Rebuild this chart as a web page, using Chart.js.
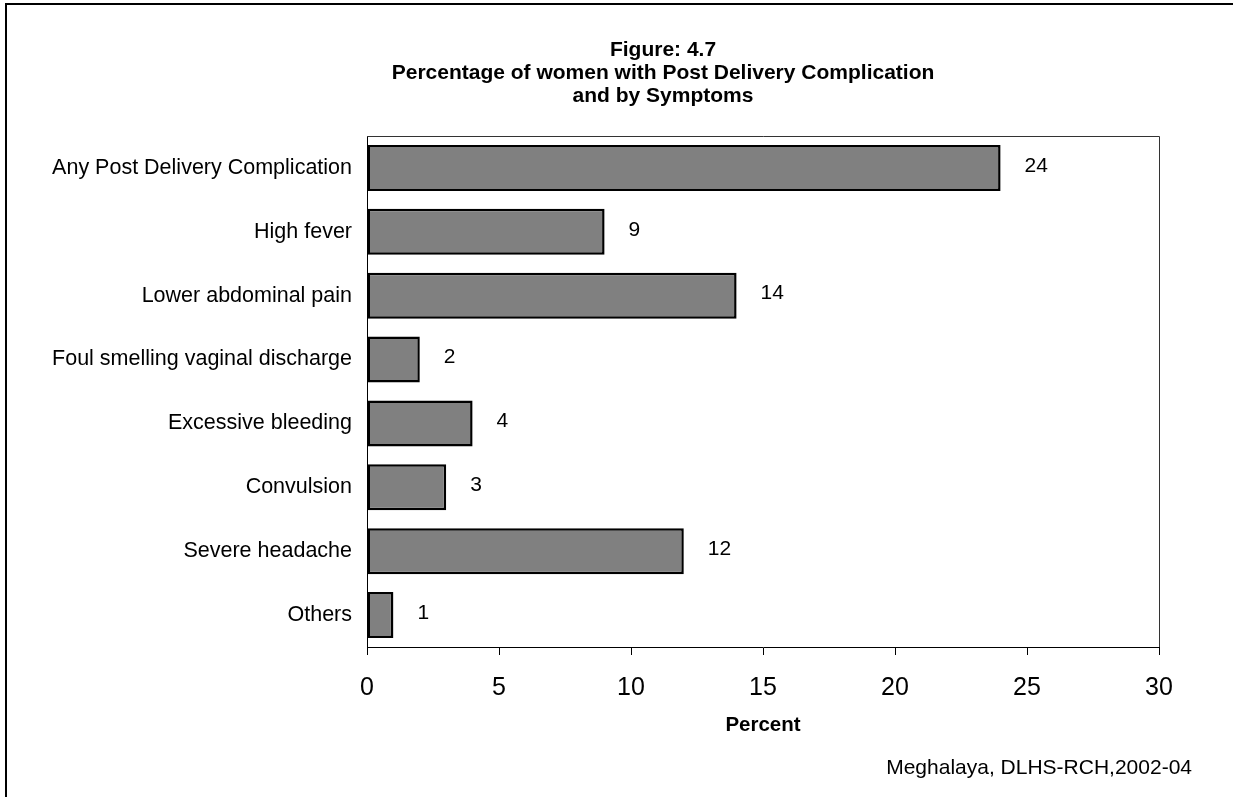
<!DOCTYPE html>
<html>
<head>
<meta charset="utf-8">
<script src="https://cdn.jsdelivr.net/npm/chart.js@4.4.1/dist/chart.umd.min.js"></script>
<style>
  html, body { margin: 0; padding: 0; background: #ffffff; }
  #wrap { width: 1233px; height: 797px; }
</style>
</head>
<body>
<div id="wrap"><canvas id="c" width="1233" height="797"></canvas></div>
<script>
// Post delivery complications by symptom (percent of women)
const categories = [
  'Any Post Delivery Complication',
  'High fever',
  'Lower abdominal pain',
  'Foul smelling vaginal discharge',
  'Excessive bleeding',
  'Convulsion',
  'Severe headache',
  'Others'
];
const percentValues = [24, 9, 14, 2, 4, 3, 12, 1];
const xTickValues = [0, 5, 10, 15, 20, 25, 30];

const titleLines = [
  'Figure: 4.7',
  'Percentage of women with Post Delivery Complication',
  'and by Symptoms'
];
const axisTitle = 'Percent';
const sourceNote = 'Meghalaya, DLHS-RCH,2002-04';

const FONT = '"Liberation Sans", Arial, Helvetica, sans-serif';

// Frame, plot border, titles and value labels
const decorations = {
  id: 'decorations',
  beforeDatasetsDraw(chart) {
    const { ctx, chartArea: a } = chart;
    ctx.save();
    ctx.strokeStyle = '#333333';
    ctx.lineWidth = 1;
    ctx.beginPath();
    ctx.moveTo(a.left, a.top + 0.5);
    ctx.lineTo(a.right + 0.5, a.top + 0.5);
    ctx.lineTo(a.right + 0.5, a.bottom);
    ctx.stroke();
    ctx.restore();
  },
  afterDraw(chart) {
    const { ctx, chartArea: a } = chart;
    ctx.save();
    // outer frame (left and top edges)
    ctx.strokeStyle = '#000000';
    ctx.lineWidth = 2;
    ctx.beginPath();
    ctx.moveTo(6, 797);
    ctx.lineTo(6, 4);
    ctx.lineTo(1233, 4);
    ctx.stroke();

    // title block
    ctx.fillStyle = '#000000';
    ctx.textAlign = 'center';
    ctx.textBaseline = 'middle';
    ctx.font = 'bold 21px ' + FONT;
    titleLines.forEach((t, i) => ctx.fillText(t, 663, 50 + i * 23));

    // axis title
    ctx.font = 'bold 20.5px ' + FONT;
    ctx.fillText(axisTitle, (a.left + a.right) / 2, 725);

    // source note
    ctx.textAlign = 'right';
    ctx.font = '21px ' + FONT;
    ctx.fillText(sourceNote, 1192, 768);

    // value labels beside each bar
    const meta = chart.getDatasetMeta(0);
    ctx.textAlign = 'left';
    ctx.font = '21px ' + FONT;
    meta.data.forEach((bar, i) => {
      ctx.fillText(String(percentValues[i]), bar.x + 24, bar.y - 2);
    });
    ctx.restore();
  }
};

new Chart(document.getElementById('c'), {
  type: 'bar',
  data: {
    labels: categories,
    datasets: [{
      data: percentValues,
      backgroundColor: '#808080',
      borderColor: '#000000',
      borderWidth: 2.5,
      borderSkipped: false,
      categoryPercentage: 1.0,
      barPercentage: 0.72
    }]
  },
  options: {
    indexAxis: 'y',
    responsive: false,
    animation: false,
    layout: { padding: { top: 136, right: 74, left: 0, bottom: 0 } },
    plugins: {
      legend: { display: false },
      title: { display: false },
      tooltip: { enabled: false }
    },
    scales: {
      x: {
        min: 0,
        max: 30,
        afterBuildTicks(scale) {
          scale.ticks = xTickValues.map(v => ({ value: v }));
        },
        afterFit(scale) { scale.height = 150; },
        grid: {
          drawOnChartArea: false,
          drawTicks: true,
          tickLength: 8,
          color: '#000000',
          lineWidth: 1
        },
        border: { display: true, color: '#000000', width: 1 },
        ticks: {
          color: '#000000',
          padding: 18,
          maxRotation: 0,
          font: { family: FONT, size: 25 }
        }
      },
      y: {
        afterFit(scale) { scale.width = 367; },
        grid: { display: false, drawTicks: false },
        border: { display: true, color: '#000000', width: 1 },
        ticks: {
          color: '#000000',
          padding: 15,
          font: { family: FONT, size: 21.5 }
        }
      }
    }
  },
  plugins: [decorations]
});
</script>
</body>
</html>
